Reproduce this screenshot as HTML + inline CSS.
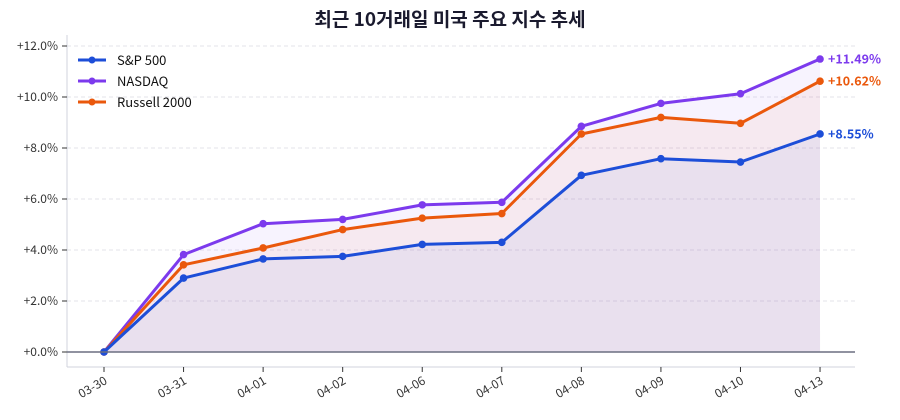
<!DOCTYPE html>
<html><head><meta charset="utf-8"><style>
body{margin:0;background:#fff;}
svg{display:block;font-family:"Noto Sans CJK KR","Liberation Sans",sans-serif;}
</style></head><body>
<svg width="900" height="420" viewBox="0 0 900 420" xmlns="http://www.w3.org/2000/svg">
<text x="450" y="26" text-anchor="middle" font-size="19" font-weight="bold" fill="#1a1a2e">최근 10거래일 미국 주요 지수 추세</text>
<g stroke="#e3e3ea" stroke-dasharray="4,3" stroke-width="1">
<line x1="67" x2="855" y1="46" y2="46"/><line x1="67" x2="855" y1="97" y2="97"/><line x1="67" x2="855" y1="148" y2="148"/><line x1="67" x2="855" y1="199" y2="199"/><line x1="67" x2="855" y1="250" y2="250"/><line x1="67" x2="855" y1="301" y2="301"/>
</g>
<line x1="67" y1="35" x2="67" y2="367" stroke="#d0d3dc"/>
<line x1="67" y1="367" x2="855" y2="367" stroke="#d0d3dc"/>
<g font-size="12" fill="#333" text-anchor="end">
<text x="58" y="50">+12.0%</text><text x="58" y="101">+10.0%</text><text x="58" y="152">+8.0%</text><text x="58" y="203">+6.0%</text><text x="58" y="254">+4.0%</text><text x="58" y="305">+2.0%</text><text x="58" y="356">+0.0%</text>
</g>
<g stroke="#333"><line x1="62" x2="67" y1="46" y2="46"/><line x1="62" x2="67" y1="97" y2="97"/><line x1="62" x2="67" y1="148" y2="148"/><line x1="62" x2="67" y1="199" y2="199"/><line x1="62" x2="67" y1="250" y2="250"/><line x1="62" x2="67" y1="301" y2="301"/><line x1="62" x2="67" y1="352" y2="352"/></g>
<g id="pts"></g>
<line x1="67" y1="352" x2="855" y2="352" stroke="#6b6f80" stroke-width="1.5"/>
<g font-size="12" fill="#333" id="xl"></g>
<g font-size="13" fill="#111">
<line x1="78" x2="106" y1="60" y2="60" stroke="#1d4ed8" stroke-width="3"/><circle cx="92" cy="60" r="3.5" fill="#1d4ed8"/><text x="117" y="65">S&amp;P 500</text>
<line x1="78" x2="106" y1="81" y2="81" stroke="#7c3aed" stroke-width="3"/><circle cx="92" cy="81" r="3.5" fill="#7c3aed"/><text x="117" y="86">NASDAQ</text>
<line x1="78" x2="106" y1="102" y2="102" stroke="#ea580c" stroke-width="3"/><circle cx="92" cy="102" r="3.5" fill="#ea580c"/><text x="117" y="107">Russell 2000</text>
</g>
<script>
var d=[["#7c3aed",[0,3.82,5.03,5.2,5.77,5.87,8.85,9.75,10.13,11.49]],["#ea580c",[0,3.42,4.08,4.8,5.25,5.43,8.55,9.2,8.97,10.62]],["#1d4ed8",[0,2.9,3.65,3.75,4.22,4.3,6.93,7.58,7.45,8.55]]];
var lab=["03-30","03-31","04-01","04-02","04-06","04-07","04-08","04-09","04-10","04-13"];
var ns="http://www.w3.org/2000/svg",g=document.getElementById("pts"),xl=document.getElementById("xl");
function X(i){return 104+i*79.56}function Y(v){return 352-v*25.5}
d.forEach(function(s){var p=s[1].map(function(v,i){return X(i).toFixed(1)+","+Y(v).toFixed(1)}).join(" ");
var f=document.createElementNS(ns,"polygon");f.setAttribute("points",X(0)+",352 "+p+" "+X(9)+",352");f.setAttribute("fill",s[0]);f.setAttribute("fill-opacity","0.06");g.appendChild(f);});
d.forEach(function(s){var p=s[1].map(function(v,i){return X(i).toFixed(1)+","+Y(v).toFixed(1)}).join(" ");
var l=document.createElementNS(ns,"polyline");l.setAttribute("points",p);l.setAttribute("fill","none");l.setAttribute("stroke",s[0]);l.setAttribute("stroke-width","3");l.setAttribute("stroke-linejoin","round");g.appendChild(l);
s[1].forEach(function(v,i){var c=document.createElementNS(ns,"circle");c.setAttribute("cx",X(i));c.setAttribute("cy",Y(v));c.setAttribute("r","3.8");c.setAttribute("fill",s[0]);g.appendChild(c);});
var t=document.createElementNS(ns,"text");t.setAttribute("x",X(9)+8);t.setAttribute("y",Y(s[1][9])+4.5);t.setAttribute("fill",s[0]);t.setAttribute("font-size","12.5");t.setAttribute("font-weight","bold");t.textContent="+"+s[1][9].toFixed(2)+"%";g.appendChild(t);});
lab.forEach(function(s,i){var x=X(i);var tk=document.createElementNS(ns,"line");tk.setAttribute("x1",x);tk.setAttribute("x2",x);tk.setAttribute("y1",367);tk.setAttribute("y2",372);tk.setAttribute("stroke","#333");xl.appendChild(tk);
var t=document.createElementNS(ns,"text");t.setAttribute("transform","translate("+(x+4)+",383) rotate(-30)");t.setAttribute("text-anchor","end");t.textContent=s;xl.appendChild(t);});
</script>
</svg>
</body></html>
